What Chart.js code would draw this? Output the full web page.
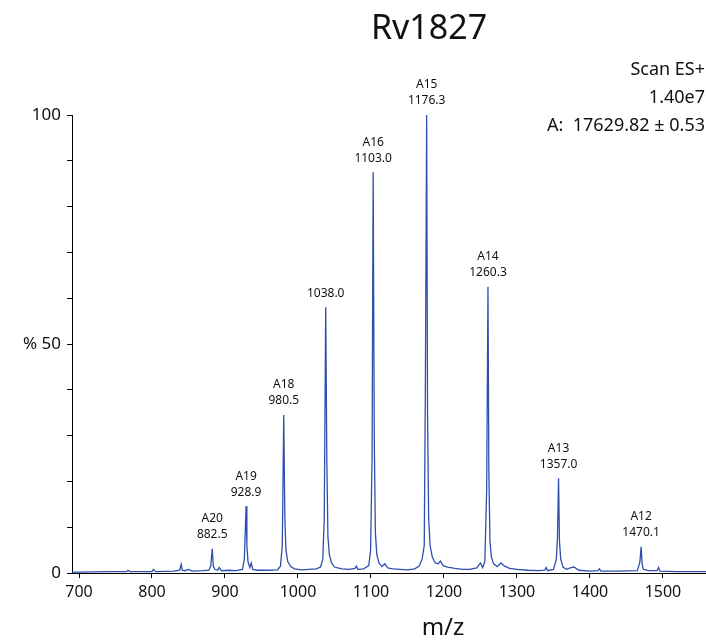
<!DOCTYPE html>
<html>
<head>
<meta charset="utf-8">
<script src="https://cdn.jsdelivr.net/npm/chart.js@4/dist/chart.umd.min.js"></script>
<style>
  html, body { margin: 0; padding: 0; background: #fff; }
  #wrap { width: 706px; height: 644px; position: relative; }
</style>
</head>
<body>
<div id="wrap"><canvas id="espectro"></canvas></div>
<script>
// ===============================
// DATOS DEL ESPECTRO
// ===============================
const mz = [
  690, 700, 740, 765, 767, 770, 800, 802, 805, 830, 838, 840, 841.5, 845, 850, 855, 870, 878,
  880.5, 882.5, 884, 886, 890, 892, 895, 905, 915, 924, 926.5, 928.9, 930, 931.5, 934, 936, 938,
  945, 960, 972, 976, 978.5, 980.5, 982, 983.5, 986, 990, 995, 1005, 1015, 1025, 1031, 1034,
  1036, 1038, 1039.5, 1041, 1043, 1046, 1050, 1060, 1070, 1078, 1080, 1082, 1090, 1097, 1099.5,
  1101.5, 1103, 1104.5, 1106, 1108, 1111, 1115, 1119, 1123, 1130, 1140, 1150, 1160, 1166, 1170,
  1173, 1174.5, 1176.3, 1177.5, 1179, 1181, 1184, 1188, 1192, 1195, 1199, 1205, 1215, 1225, 1235,
  1245, 1250, 1253, 1256, 1258.5, 1260.3, 1261.5, 1263, 1265, 1268, 1273, 1278, 1283, 1290, 1300,
  1315, 1330, 1338, 1340, 1342, 1350, 1354, 1355.5, 1357, 1358.2, 1360, 1363, 1368, 1373, 1378,
  1385, 1400, 1411, 1413, 1415, 1440, 1465, 1468.5, 1470.1, 1471.5, 1473, 1480, 1492, 1494, 1496,
  1520, 1560
];
const intensidad = [
  0.2, 0.2, 0.3, 0.3, 0.6, 0.3, 0.3, 0.8, 0.3, 0.4, 0.6, 1.9, 0.6, 0.5, 0.8, 0.4, 0.5, 0.6,
  1.5, 5.3, 1.5, 0.8, 0.6, 1.2, 0.5, 0.6, 0.5, 0.8, 3.0, 14.6, 6.0, 2.5, 1.2, 2.2, 0.8,
  0.6, 0.6, 0.7, 1.5, 6.0, 34.5, 12, 5.0, 2.5, 1.4, 0.9, 0.7, 0.8, 0.9, 1.3, 3.0,
  12, 58, 25, 8, 4, 2.2, 1.3, 0.9, 0.8, 1.0, 1.5, 0.8, 0.9, 1.6, 5,
  25, 87.5, 30, 9, 4, 2.2, 1.4, 2.0, 1.1, 0.9, 0.8, 0.7, 0.9, 1.5, 3,
  6, 40, 100, 35, 12, 6, 3.5, 2.2, 2.0, 2.6, 1.6, 1.3, 1.0, 0.8, 0.8,
  1.1, 2.2, 1.2, 2.5, 18, 62.5, 22, 7, 3.5, 2.0, 1.4, 2.2, 1.5, 1.0, 0.8,
  0.6, 0.5, 0.6, 1.2, 0.5, 0.8, 3, 8, 20.7, 7, 3, 1.3, 0.8, 1.1, 1.3,
  0.6, 0.4, 0.5, 0.9, 0.4, 0.4, 0.5, 2.5, 5.7, 2.0, 0.8, 0.5, 0.5, 1.2, 0.4,
  0.3, 0.3
];

// etiquetas de picos
const picoMz    = [882.5, 928.9, 980.5, 1038.0, 1103.0, 1176.3, 1260.3, 1357.0, 1470.1];
const picoAlto  = [5.3, 14.6, 34.5, 58, 87.5, 100, 62.5, 20.7, 5.7];
const picoIon   = ["A20", "A19", "A18", "", "A16", "A15", "A14", "A13", "A12"];

// ejes
const ticksX = [700, 800, 900, 1000, 1100, 1200, 1300, 1400, 1500];
const ticksY = [0, 10, 20, 30, 40, 50, 60, 70, 80, 90, 100];
const etiquetasY = { 0: "0", 50: "% 50", 100: "100" };

const titulo = "Rv1827";
const infoLineas = ["Scan ES+", "1.40e7", "A:  17629.82 \u00b1 0.53"];

const FUENTE = "'Noto Sans', 'Open Sans', sans-serif";
const AZUL = "#2f4fae";

// ===============================
// TEXTOS EXTRA
// ===============================
const textos = {
  id: "textos",
  afterDraw(chart) {
    const ctx = chart.ctx;
    const sx = chart.scales.x, sy = chart.scales.y;
    ctx.save();
    ctx.fillStyle = "#111";
    ctx.textAlign = "center";
    ctx.textBaseline = "middle";

    ctx.font = "34px " + FUENTE;
    ctx.fillText(titulo, 429, 29);

    ctx.font = "24px " + FUENTE;
    ctx.fillText("m/z", 443, 628);

    ctx.font = "18px " + FUENTE;
    ctx.textAlign = "right";
    infoLineas.forEach((t, i) => ctx.fillText(t, 705, 70 + i * 28));

    ctx.font = "12px " + FUENTE;
    ctx.textAlign = "center";
    picoMz.forEach((m, i) => {
      const x = sx.getPixelForValue(m);
      const yTop = sy.getPixelForValue(picoAlto[i]);
      ctx.fillText(m.toFixed(1), x, yTop - 14);
      if (picoIon[i]) ctx.fillText(picoIon[i], x, yTop - 30);
    });
    ctx.restore();
  }
};

// ===============================
// GRÁFICA: ESPECTRO DE MASAS
// ===============================
new Chart(document.getElementById("espectro"), {
  type: "line",
  data: {
    datasets: [{
      data: mz.map((m, i) => ({ x: m, y: intensidad[i] })),
      borderColor: AZUL,
      borderWidth: 1.3,
      pointRadius: 0,
      tension: 0,
      fill: false
    }]
  },
  options: {
    responsive: true,
    maintainAspectRatio: false,
    animation: false,
    layout: { padding: { top: 115, right: 0, left: 0, bottom: 0 } },
    plugins: { legend: { display: false }, tooltip: { enabled: false } },
    scales: {
      x: {
        type: "linear",
        min: 690.4,
        max: 1559,
        afterBuildTicks: s => { s.ticks = ticksX.map(v => ({ value: v })); },
        afterFit: s => { s.height = 71; },
        grid: { drawOnChartArea: false, drawTicks: true, tickLength: 5, color: "#000" },
        border: { display: true, color: "#000", width: 1 },
        ticks: {
          color: "#111",
          padding: 5,
          maxRotation: 0,
          font: { family: FUENTE, size: 16 },
          callback: v => String(v)
        }
      },
      y: {
        min: 0,
        max: 100,
        afterBuildTicks: s => { s.ticks = ticksY.map(v => ({ value: v })); },
        afterFit: s => { s.width = 72; },
        grid: { drawOnChartArea: false, drawTicks: true, tickLength: 5, color: "#000" },
        border: { display: true, color: "#000", width: 1 },
        ticks: {
          color: "#111",
          padding: 6,
          font: { family: FUENTE, size: 17 },
          callback: v => etiquetasY[v] ?? ""
        }
      }
    }
  },
  plugins: [textos]
});
</script>
</body>
</html>
